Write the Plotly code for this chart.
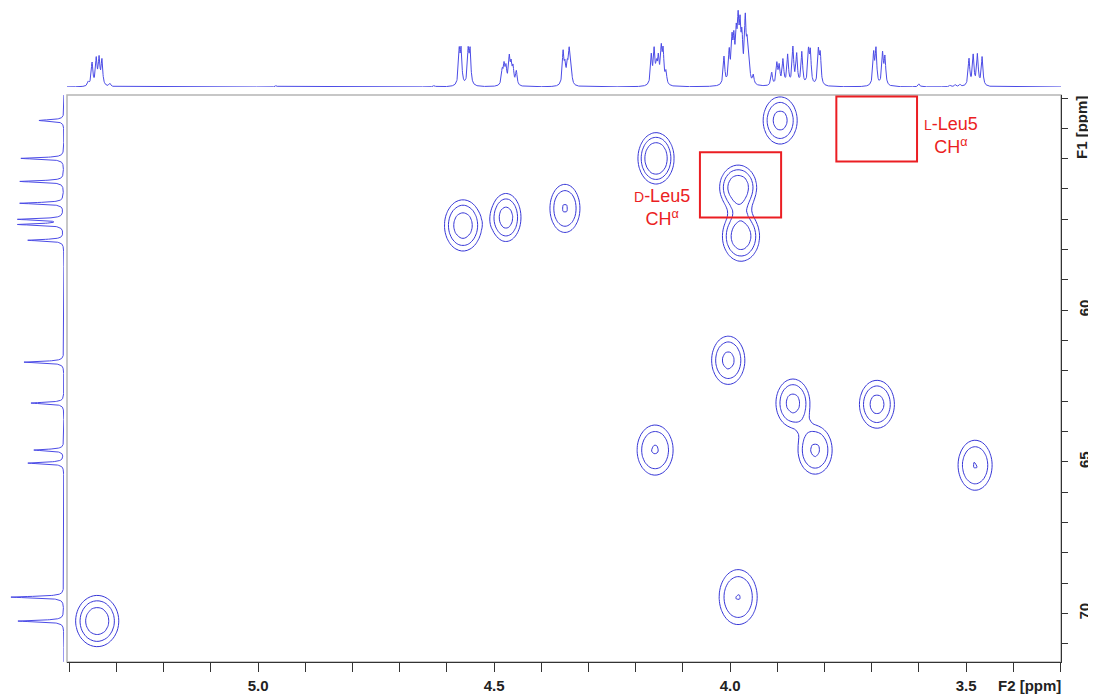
import numpy as np
import plotly.graph_objects as go

# ---------------- data ----------------
# 2D cross peaks: F2 (1H, ppm), F1 (13C, ppm), relative amplitude, widths (ppm)
peak_f2 = [3.894, 4.157, 3.983, 3.977, 4.566, 4.475, 4.350, 4.004, 3.867, 3.820, 3.689, 4.159, 3.481, 3.983, 5.341]
peak_f1 = [53.74, 54.99, 55.95, 57.56, 57.20, 56.94, 56.64, 61.65, 63.06, 64.61, 63.10, 64.61, 65.11, 69.46, 70.25]
peak_amp = [2.11, 2.50, 2.32, 2.27, 2.22, 2.15, 2.012, 2.07, 2.10, 2.03, 2.10, 2.012, 2.004, 2.004, 2.28]
peak_wf2 = [0.0397, 0.0394, 0.0415, 0.0420, 0.0423, 0.0348, 0.0358, 0.0391, 0.0397, 0.0405, 0.0409, 0.0430, 0.0407, 0.0455, 0.0487]
peak_wf1 = [0.858, 0.870, 0.779, 0.878, 0.910, 0.864, 0.894, 0.885, 0.875, 0.891, 0.873, 0.931, 0.931, 1.023, 0.900]
contour_levels = [1.0, 1.5, 2.0]

# 1H spectrum lines (ppm, intensity)
h1_ppm = [5.360, 5.352, 5.343, 5.337, 5.331, 5.314,
          4.962, 4.627,
          4.574, 4.570, 4.555, 4.551,
          4.483, 4.479, 4.475, 4.468, 4.464, 4.460, 4.453,
          4.354, 4.350, 4.345, 4.341, 4.337,
          4.167, 4.161, 4.156, 4.152, 4.146, 4.142, 4.136,
          4.013, 4.002, 3.996, 3.992, 3.987, 3.983, 3.979, 3.975, 3.968, 3.964, 3.960, 3.951,
          3.912, 3.901, 3.896, 3.888, 3.878, 3.867, 3.859, 3.848, 3.834, 3.830, 3.813, 3.809,
          3.696, 3.691, 3.677, 3.672,
          3.600, 3.534, 3.523, 3.513,
          3.494, 3.485, 3.476, 3.466]
h1_int = [4, 23, 26, 26, 25, 3,
          1.5, 1.5,
          33, 33, 33, 33,
          14, 18, 16, 26, 18, 16, 14,
          32, 17, 17, 32, 16,
          29, 33, 16, 24, 33, 31, 12,
          28, 31, 39, 37, 41, 52, 47, 39, 60, 32, 21, 9,
          13, 21, 18, 25, 30, 37, 30, 33, 32, 31, 33, 29,
          31, 35, 31, 27,
          3, 1.5, 2, 2,
          27, 30, 31, 29]

# 13C projection lines (ppm, intensity)
c13_ppm = [53.74, 54.99, 55.75, 56.47, 57.00, 57.17, 57.69, 61.71, 63.06, 64.61, 65.04, 69.46, 70.25]
c13_int = [25, 43, 44, 44, 45, 45, 36, 40, 33, 30, 36, 53, 46]

# annotation boxes (F2 range, F1 range) and labels
box_f2 = [(4.064, 3.892), (3.775, 3.604)]
box_f1 = [(54.79, 56.94), (52.95, 55.09)]
label_text = ["<span style='font-size:14px'>D</span>-Leu5<br>CH<sup>α</sup>",
              "<span style='font-size:14px'>L</span>-Leu5<br>CH<sup>α</sup>"]
label_f2 = [4.144, 3.532]
label_f1 = [56.61, 54.23]

x_range = [5.405, 3.299]
y_range = [71.6, 52.9]
f1_ticks = [60, 65, 70]

# ---------------- build traces ----------------
blue_c = "rgb(55,55,215)"
blue_s = "rgb(75,75,230)"

gx = np.arange(x_range[1] - 0.02, x_range[0] + 0.02, 0.006)
gy = np.arange(y_range[1] - 0.5, y_range[0] + 0.5, 0.18)
X, Y = np.meshgrid(gx, gy)
Z = np.zeros_like(X)
for f2, f1, a, w2, w1 in zip(peak_f2, peak_f1, peak_amp, peak_wf2, peak_wf1):
    d = np.sqrt(((X - f2) / w2) ** 2 + ((Y - f1) / w1) ** 2)
    Z += a * np.exp(-d ** 3)

fig = go.Figure()
fig.add_trace(go.Contour(
    x=gx, y=gy, z=Z, xaxis="x", yaxis="y",
    contours=dict(coloring="lines", start=contour_levels[0], end=contour_levels[-1],
                  size=contour_levels[1] - contour_levels[0], showlabels=False),
    colorscale=[[0, blue_c], [1, blue_c]], showscale=False,
    line=dict(width=1), hoverinfo="skip"))

# 1H spectrum on top
sx = np.arange(x_range[1], x_range[0], 0.0004)
hw = 0.002
sy = np.zeros_like(sx)
for p, h in zip(h1_ppm, h1_int):
    sy += h / (1 + ((sx - p) / hw) ** 2)
fig.add_trace(go.Scatter(x=sx, y=sy, mode="lines", xaxis="x2", yaxis="y2",
                         line=dict(color=blue_s, width=1), hoverinfo="skip"))

# 13C projection on the left
cy = np.arange(y_range[1], y_range[0], 0.005)
cw = 0.03
cx = np.zeros_like(cy)
for p, h in zip(c13_ppm, c13_int):
    cx += h / (1 + ((cy - p) / cw) ** 2)
fig.add_trace(go.Scatter(x=cx, y=cy, mode="lines", xaxis="x3", yaxis="y3",
                         line=dict(color=blue_s, width=1), hoverinfo="skip"))

# page body has an 8px margin: figure is laid out in (reference px - 8)
OFF = 8
W, H = 1096 - OFF, 698 - OFF
def px_x(p):
    return (p - OFF) / W
def px_y(p):
    return 1 - (p - OFF) / H

xd = [px_x(67), px_x(1061)]
yd = [px_y(662), px_y(95)]
tickfont = dict(family="Arial", size=15, color="#222", weight="bold")

fig.update_layout(
    width=W, height=H, margin=dict(l=0, r=0, t=0, b=0),
    paper_bgcolor="white", plot_bgcolor="white", showlegend=False,
    xaxis=dict(domain=xd, range=x_range, anchor="y", showgrid=False, zeroline=False,
               showline=True, linecolor="#333", linewidth=1,
               ticks="outside", ticklen=9, tickcolor="#333", dtick=0.5, tick0=0,
               tickformat=".1f", tickfont=tickfont, ticklabelstandoff=1,
               minor=dict(ticks="outside", ticklen=9, dtick=0.1, tick0=0, tickcolor="#333", showgrid=False)),
    yaxis=dict(domain=yd, range=y_range, anchor="x", side="right", showgrid=False, zeroline=False,
               showline=True, linecolor="#333", linewidth=1,
               ticks="outside", ticklen=6, tickcolor="#333", tickmode="array", tickvals=f1_ticks,
               tickangle=-90, tickfont=tickfont, ticklabelstandoff=4,
               minor=dict(ticks="outside", ticklen=6, dtick=1, tick0=0, tickcolor="#333", showgrid=False)),
    xaxis2=dict(domain=xd, range=x_range, anchor="y2", visible=False),
    yaxis2=dict(domain=[px_y(87), 1], range=[0, 87 - OFF], anchor="x2", visible=False),
    xaxis3=dict(domain=[0, px_x(64)], range=[64 - OFF, 0], anchor="y3", visible=False),
    yaxis3=dict(domain=yd, range=y_range, anchor="x3", visible=False),
)

# gray frame of main plot
fig.add_shape(type="rect", xref="x domain", yref="y domain", x0=0, x1=1, y0=0, y1=1,
              line=dict(color="#b5b5b5", width=1.5), layer="below")

for (a, b), (c, d) in zip(box_f2, box_f1):
    fig.add_shape(type="rect", xref="x", yref="y", x0=a, x1=b, y0=c, y1=d,
                  line=dict(color="rgb(235,30,35)", width=2))

for t, lx, ly in zip(label_text, label_f2, label_f1):
    fig.add_annotation(x=lx, y=ly, xref="x", yref="y", text=t, showarrow=False,
                       font=dict(family="Arial", size=18, color="rgb(235,30,35)"),
                       align="center")

fig.add_annotation(x=px_x(1029), y=px_y(685), xref="paper", yref="paper", text="F2 [ppm]",
                   xanchor="center", yanchor="middle", showarrow=False, font=tickfont)
fig.add_annotation(x=px_x(1081), y=px_y(128), xref="paper", yref="paper", text="F1 [ppm]",
                   xanchor="center", yanchor="middle", showarrow=False, textangle=-90, font=tickfont)

fig.write_html("out.html")
